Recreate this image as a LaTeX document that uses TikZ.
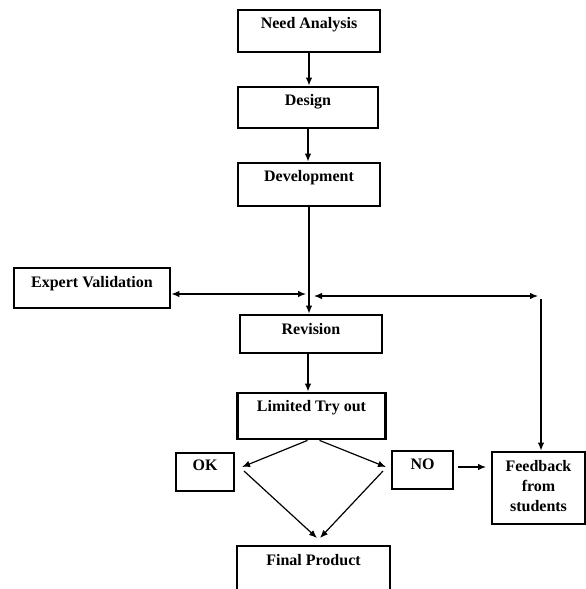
\documentclass[tikz,border=0pt]{standalone}
\usepackage{fontspec}
\setmainfont{Liberation Serif}
\usetikzlibrary{arrows.meta,calc}
\begin{document}
\begin{tikzpicture}[x=1pt,y=-1pt,
  box/.style={draw=black, line width=2.8pt, fill=white, inner sep=0pt},
  txt/.style={font=\bfseries\fontsize{16}{20}\selectfont, inner sep=0pt, anchor=base},
  arr/.style={line width=1.2pt, -{Latex[length=8pt,width=6.5pt]}},
  darr/.style={line width=1.2pt, {Latex[length=8pt,width=6.5pt]}-{Latex[length=8pt,width=6.5pt]}}]
\fill[white] (0,0) rectangle (586,589);
\useasboundingbox (0,0) rectangle (586,589);

% boxes
\node[box, minimum width=142pt, minimum height=42pt] (need)     at (309,31)    {};
\node[box, minimum width=140pt, minimum height=41pt] (design)   at (308,107.5) {};
\node[box, minimum width=142pt, minimum height=43pt] (devel)    at (309,184.5) {};
\node[box, minimum width=156pt, minimum height=40pt] (expert)   at (92,288)    {};
\node[box, minimum width=142pt, minimum height=38pt] (revision) at (311,334)   {};
\node[box, minimum width=148pt, minimum height=46pt] (limited)  at (311.5,416) {};
\node[box, minimum width=58pt,  minimum height=38pt] (ok)       at (205,472)   {};
\node[box, minimum width=61pt,  minimum height=38pt] (no)       at (422.5,470) {};
\node[box, minimum width=93pt,  minimum height=72pt] (feedback) at (538.5,488) {};
\node[box, minimum width=153pt, minimum height=56pt] (final)    at (313.5,574) {};

% labels
\node[txt] (needT)     at ([yshift=-20pt]need.north)     {Need Analysis};
\node[txt] (designT)   at ([yshift=-20pt]design.north)   {Design};
\node[txt] (develT)    at ([yshift=-20pt]devel.north)    {Development};
\node[txt] (expertT)   at ([yshift=-21pt]expert.north)   {Expert Validation};
\node[txt] (revisionT) at ([yshift=-21pt]revision.north) {Revision};
\node[txt] (limitedT)  at ([yshift=-20pt]limited.north)  {Limited Try out};
\node[txt] (okT)       at ([yshift=-19pt]ok.north)       {OK};
\node[txt] (noT)       at ([yshift=-20pt]no.north)       {NO};
\node[txt] (finalT)    at ([yshift=-21pt]final.north)    {Final Product};
\node[txt, anchor=north, align=center] (feedbackT) at ([yshift=-10pt]feedback.north)
  {Feedback\\from\\students};

% main flow
\draw[arr] (need.south)   -- (need.south |- design.north);
\draw[arr] (design.south) -- (design.south |- devel.north);
\draw[arr] (devel.south)  -- (devel.south |- revision.north);
\draw[arr] ([xshift=-3pt]revision.south) -- ([xshift=-3pt]revision.south |- limited.north);

% validation loop
\coordinate (jL) at (306,294);
\coordinate (jR) at (314,296);
\coordinate (corner) at (538,296);
\coordinate (drop) at (541,299);
\draw[darr] (expert.east |- jL) -- (jL);
\draw[darr] (jR) -- (corner);
\draw[arr] (drop) -- (drop |- feedback.north);

% try-out outcomes
\coordinate (okIn)  at (242,467);
\coordinate (noIn)  at (386,467);
\coordinate (okOut) at (244,471);
\coordinate (noOut) at (383,471);
\coordinate (finL)  at (317,538);
\coordinate (finR)  at (320,538);
\coordinate (fbIn)  at (486,467);
\draw[arr] ([xshift=-4pt]limited.south) -- (okIn);
\draw[arr] ([xshift=8pt]limited.south)  -- (noIn);
\draw[arr] (okOut) -- (finL);
\draw[arr] (noOut) -- (finR);
\draw[arr] ([shift={(4,-3)}]no.east) -- (fbIn);
\end{tikzpicture}
\end{document}
